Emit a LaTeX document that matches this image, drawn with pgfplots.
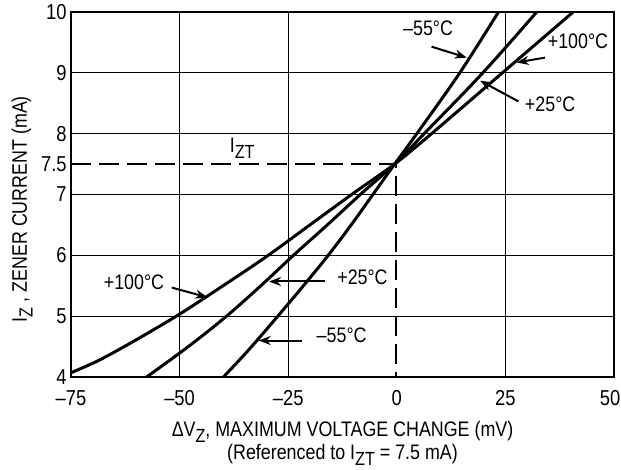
\documentclass[border=0pt]{standalone}
\usepackage{fontspec}
\setmainfont{Liberation Sans}[FakeStretch=0.85]
\usepackage{pgfplots}
\pgfplotsset{compat=1.18}
\usetikzlibrary{arrows.meta}

\newcommand\sub[1]{\raisebox{-0.5ex}{\fontsize{9.5}{10}\selectfont #1}}

\begin{document}
\fontsize{10.5}{11.5}\selectfont
\begin{tikzpicture}
\begin{axis}[
scale only axis,
width=271.5pt, height=182.5pt,
xmin=-75, xmax=50,
ymin=4, ymax=10,
xtick={-75,-50,-25,25,50},
xticklabels={–75,–50,–25,25,50\hspace*{4pt}},
ytick={4,5,6,7,8,9,10},
extra x ticks={0},
extra x tick labels={0},
extra y ticks={7.5},
extra y tick labels={7.5},
extra tick style={grid=none},
/pgf/number format/assume math mode=true,
major tick length=0pt,
grid=major,
grid style={black, line width=0.5pt},
axis line style={black, line width=1pt},
tick label style={font=\fontsize{10.8}{11.5}\selectfont},
yticklabel style={xshift=1.5pt},
xticklabel style={yshift=-3pt},
xlabel={ΔV\sub{Z}, MAXIMUM VOLTAGE CHANGE (mV)\\(Referenced to I\sub{ZT} = 7.5 mA)},
xlabel style={at={(axis description cs:0.5,0)}, anchor=north, yshift=-22pt, align=center, inner sep=0pt},
ylabel={I\sub{Z} , ZENER CURRENT (mA)},
ylabel style={at={(axis description cs:-0.09,0.46)}, anchor=center, inner sep=0pt},
clip=false
]
\coordinate (bl) at (rel axis cs:0,0);
\coordinate (tr) at (rel axis cs:1,1);
% axis frame is heavier on left and bottom
\draw[line width=1.4pt] (rel axis cs:0,1) -- (rel axis cs:0,0) -- (rel axis cs:1,0);

% I_ZT reference
\addplot[black, line width=1pt, dash pattern=on 10pt off 4pt] coordinates {(-75,7.5) (-0.3,7.5) (-0.3,4)};

% +100 C
\addplot[black, line width=1.5pt, smooth, tension=0.5] coordinates {
(-75,4.07) (-68.7,4.27) (-61,4.57) (-50.3,5.02) (-40,5.5) (-30,5.98)
(-20,6.5) (-10.4,7) (-0.5,7.5) (8,8) (24.3,9) (40.6,10)};
% +25 C
\addplot[black, line width=1.5pt, smooth, tension=0.6] coordinates {
(-57.6,4) (-48,4.5) (-39.2,5) (-31,5.52) (-23.8,6) (-16,6.5) (-8.4,7)
(-0.5,7.5) (6.3,8) (19.8,9) (32.2,10)};
% -55 C
\addplot[black, line width=1.5pt, smooth, tension=0.6] coordinates {
(-39.9,4) (-33.8,4.47) (-27.4,5) (-21.5,5.5) (-15.8,6) (-10.5,6.5) (-5.5,7) (-0.5,7.5)
(4.6,8) (14.5,9) (23.4,10)};

\node at (axis cs:-35.6,7.76) {I\sub{ZT}};

\node at (axis cs:7.2,9.74) {–55°C};
\draw[line width=1pt, -{Stealth[length=6pt,width=4.5pt]}] (axis cs:8,9.43) -- (axis cs:16.1,9.25);
\node at (axis cs:41.7,9.52) {+100°C};
\draw[line width=1pt, -{Stealth[length=6pt,width=4.5pt]}] (axis cs:34.1,9.25) -- (axis cs:27.6,9.17);
\node at (axis cs:35.3,8.49) {+25°C};
\draw[line width=1pt, -{Stealth[length=6pt,width=4.5pt]}] (axis cs:28,8.53) -- (axis cs:19.2,8.87);

\node at (axis cs:-60.5,5.56) {+100°C};
\draw[line width=1pt, -{Stealth[length=6pt,width=4.5pt]}] (axis cs:-51.8,5.47) -- (axis cs:-43.6,5.31);
\node at (axis cs:-7.9,5.64) {+25°C};
\draw[line width=1pt, -{Stealth[length=6pt,width=4.5pt]}] (axis cs:-16.5,5.57) -- (axis cs:-29.4,5.57);
\node at (axis cs:-12.7,4.68) {–55°C};
\draw[line width=1pt, -{Stealth[length=6pt,width=4.5pt]}] (axis cs:-21.9,4.6) -- (axis cs:-31.8,4.6);
\end{axis}
\pgfresetboundingbox
\path[use as bounding box] ([xshift=-35.5pt,yshift=-46pt]bl) rectangle ([xshift=3.5pt,yshift=6pt]tr);
\end{tikzpicture}
\end{document}
